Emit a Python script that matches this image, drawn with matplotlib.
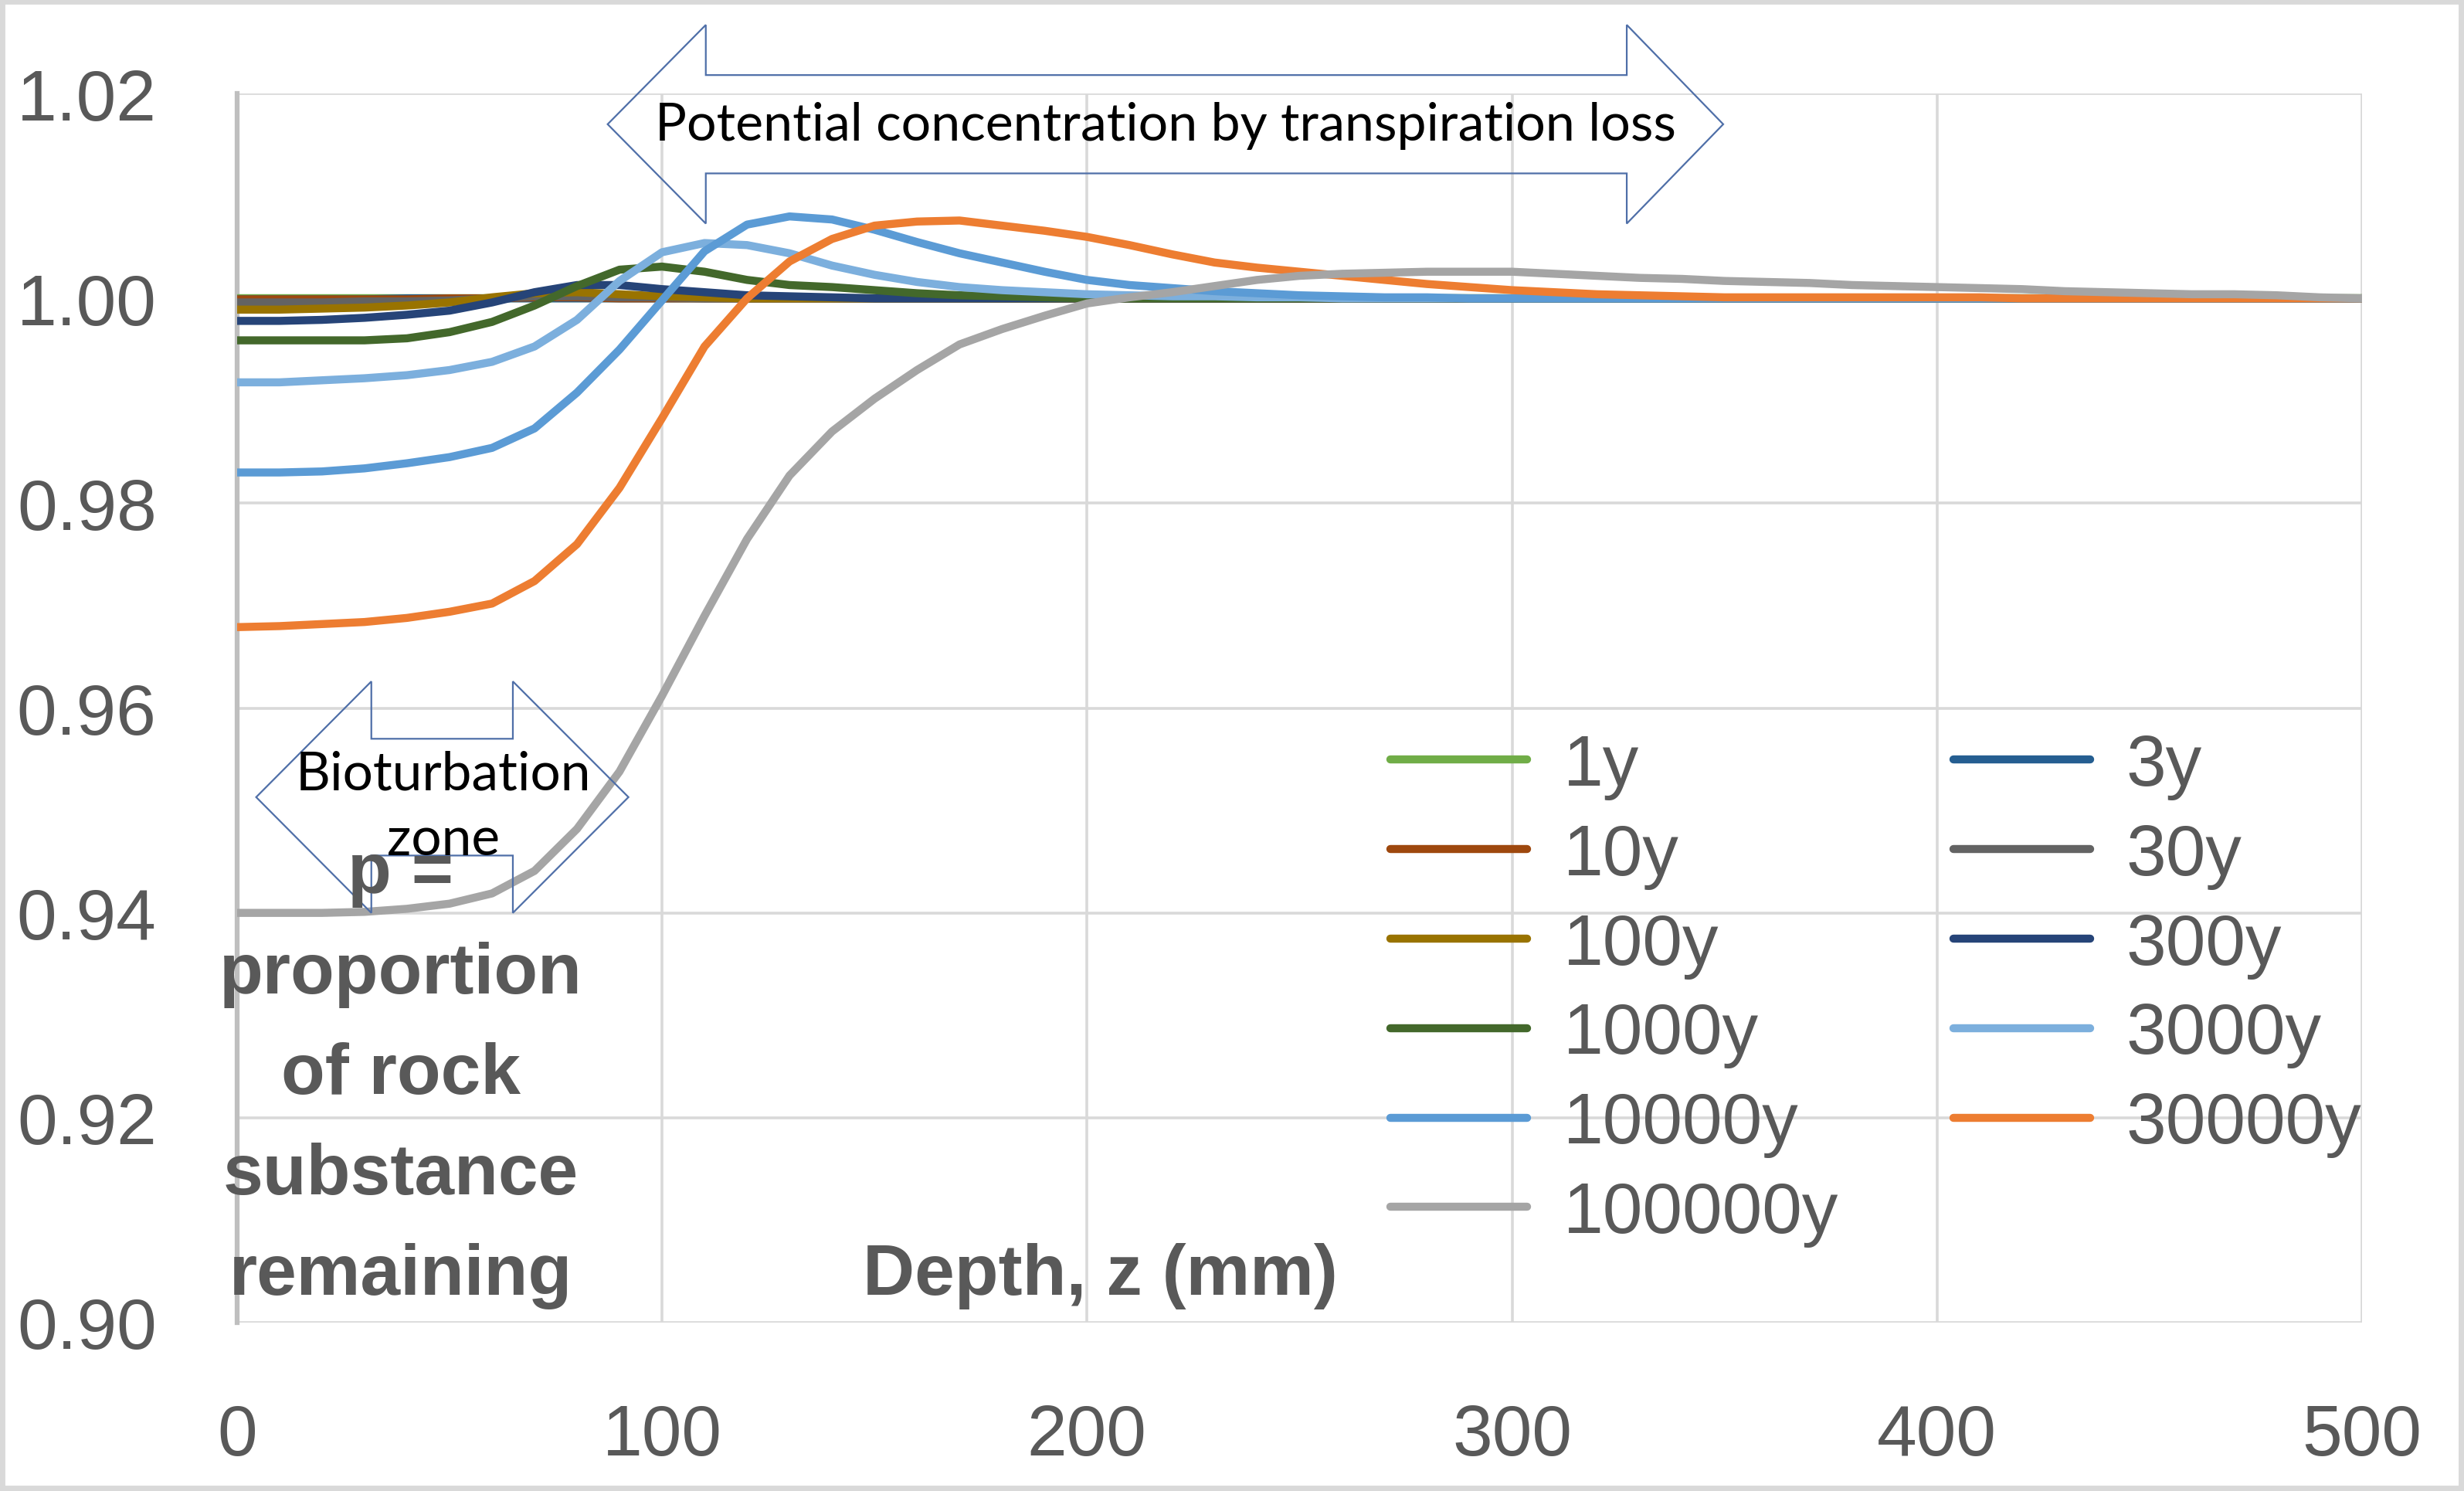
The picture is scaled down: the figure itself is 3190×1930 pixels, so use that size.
import matplotlib.pyplot as plt
import numpy as np
from matplotlib.patches import Polygon, Rectangle

# depth below surface (mm), one model node every 10 mm
depth = np.arange(0, 510, 10)

# p = proportion of rock substance remaining, one list per elapsed time
p_1y = [
    1.0000, 1.0000, 1.0000, 1.0000, 1.0000, 1.0000, 1.0000, 1.0000, 1.0000, 1.0000,
    1.0000, 1.0000, 1.0000, 1.0000, 1.0000, 1.0000, 1.0000, 1.0000, 1.0000, 1.0000,
    1.0000, 1.0000, 1.0000, 1.0000, 1.0000, 1.0000, 1.0000, 1.0000, 1.0000, 1.0000,
    1.0000, 1.0000, 1.0000, 1.0000, 1.0000, 1.0000, 1.0000, 1.0000, 1.0000, 1.0000,
    1.0000, 1.0000, 1.0000, 1.0000, 1.0000, 1.0000, 1.0000, 1.0000, 1.0000, 1.0000,
    1.0000,
]
p_3y = [
    0.9999, 0.9999, 0.9999, 0.9999, 1.0000, 1.0000, 1.0000, 1.0000, 1.0000, 1.0000,
    1.0000, 1.0000, 1.0000, 1.0000, 1.0000, 1.0000, 1.0000, 1.0000, 1.0000, 1.0000,
    1.0000, 1.0000, 1.0000, 1.0000, 1.0000, 1.0000, 1.0000, 1.0000, 1.0000, 1.0000,
    1.0000, 1.0000, 1.0000, 1.0000, 1.0000, 1.0000, 1.0000, 1.0000, 1.0000, 1.0000,
    1.0000, 1.0000, 1.0000, 1.0000, 1.0000, 1.0000, 1.0000, 1.0000, 1.0000, 1.0000,
    1.0000,
]
p_10y = [
    0.9999, 0.9999, 0.9999, 0.9999, 0.9999, 1.0000, 1.0000, 1.0001, 1.0001, 1.0000,
    1.0000, 1.0000, 1.0000, 1.0000, 1.0000, 1.0000, 1.0000, 1.0000, 1.0000, 1.0000,
    1.0000, 1.0000, 1.0000, 1.0000, 1.0000, 1.0000, 1.0000, 1.0000, 1.0000, 1.0000,
    1.0000, 1.0000, 1.0000, 1.0000, 1.0000, 1.0000, 1.0000, 1.0000, 1.0000, 1.0000,
    1.0000, 1.0000, 1.0000, 1.0000, 1.0000, 1.0000, 1.0000, 1.0000, 1.0000, 1.0000,
    1.0000,
]
p_30y = [
    0.9996, 0.9996, 0.9996, 0.9997, 0.9997, 0.9998, 1.0000, 1.0002, 1.0002, 1.0001,
    1.0001, 1.0000, 1.0000, 1.0000, 1.0000, 1.0000, 1.0000, 1.0000, 1.0000, 1.0000,
    1.0000, 1.0000, 1.0000, 1.0000, 1.0000, 1.0000, 1.0000, 1.0000, 1.0000, 1.0000,
    1.0000, 1.0000, 1.0000, 1.0000, 1.0000, 1.0000, 1.0000, 1.0000, 1.0000, 1.0000,
    1.0000, 1.0000, 1.0000, 1.0000, 1.0000, 1.0000, 1.0000, 1.0000, 1.0000, 1.0000,
    1.0000,
]
p_100y = [
    0.9989, 0.9989, 0.9990, 0.9991, 0.9993, 0.9996, 1.0001, 1.0005, 1.0006, 1.0004,
    1.0002, 1.0001, 1.0000, 1.0000, 1.0000, 1.0000, 1.0000, 1.0000, 1.0000, 1.0000,
    1.0000, 1.0000, 1.0000, 1.0000, 1.0000, 1.0000, 1.0000, 1.0000, 1.0000, 1.0000,
    1.0000, 1.0000, 1.0000, 1.0000, 1.0000, 1.0000, 1.0000, 1.0000, 1.0000, 1.0000,
    1.0000, 1.0000, 1.0000, 1.0000, 1.0000, 1.0000, 1.0000, 1.0000, 1.0000, 1.0000,
    1.0000,
]
p_300y = [
    0.9978, 0.9978, 0.9979, 0.9981, 0.9984, 0.9988, 0.9996, 1.0006, 1.0013, 1.0013,
    1.0009, 1.0006, 1.0003, 1.0002, 1.0001, 1.0000, 1.0000, 1.0000, 1.0000, 1.0000,
    1.0000, 1.0000, 1.0000, 1.0000, 1.0000, 1.0000, 1.0000, 1.0000, 1.0000, 1.0000,
    1.0000, 1.0000, 1.0000, 1.0000, 1.0000, 1.0000, 1.0000, 1.0000, 1.0000, 1.0000,
    1.0000, 1.0000, 1.0000, 1.0000, 1.0000, 1.0000, 1.0000, 1.0000, 1.0000, 1.0000,
    1.0000,
]
p_1000y = [
    0.9959, 0.9959, 0.9959, 0.9959, 0.9961, 0.9967, 0.9977, 0.9993, 1.0012, 1.0028,
    1.0031, 1.0026, 1.0018, 1.0013, 1.0011, 1.0008, 1.0005, 1.0003, 1.0002, 1.0001,
    1.0000, 1.0000, 1.0000, 1.0000, 1.0000, 1.0000, 1.0000, 1.0000, 1.0000, 1.0000,
    1.0000, 1.0000, 1.0000, 1.0000, 1.0000, 1.0000, 1.0000, 1.0000, 1.0000, 1.0000,
    1.0000, 1.0000, 1.0000, 1.0000, 1.0000, 1.0000, 1.0000, 1.0000, 1.0000, 1.0000,
    1.0000,
]
p_3000y = [
    0.9918, 0.9918, 0.9920, 0.9922, 0.9925, 0.9930, 0.9938, 0.9953, 0.9979, 1.0017,
    1.0045, 1.0054, 1.0052, 1.0044, 1.0032, 1.0023, 1.0016, 1.0011, 1.0008, 1.0006,
    1.0004, 1.0003, 1.0002, 1.0002, 1.0001, 1.0001, 1.0000, 1.0000, 1.0000, 1.0000,
    1.0000, 1.0000, 1.0000, 1.0000, 1.0000, 1.0000, 1.0000, 1.0000, 1.0000, 1.0000,
    1.0000, 1.0000, 1.0000, 1.0000, 1.0000, 1.0000, 1.0000, 1.0000, 1.0000, 1.0000,
    1.0000,
]
p_10000y = [
    0.9830, 0.9830, 0.9831, 0.9834, 0.9839, 0.9845, 0.9854, 0.9873, 0.9908, 0.9950,
    0.9998, 1.0046, 1.0072, 1.0080, 1.0077, 1.0067, 1.0055, 1.0044, 1.0035, 1.0026,
    1.0018, 1.0013, 1.0010, 1.0007, 1.0005, 1.0003, 1.0002, 1.0001, 1.0001, 1.0000,
    1.0000, 1.0000, 1.0000, 1.0000, 1.0000, 1.0000, 1.0000, 1.0000, 1.0000, 1.0000,
    1.0000, 1.0000, 1.0000, 1.0000, 1.0000, 1.0000, 1.0000, 1.0000, 1.0000, 1.0000,
    1.0000,
]
p_30000y = [
    0.9679, 0.9680, 0.9682, 0.9684, 0.9688, 0.9694, 0.9702, 0.9724, 0.9760, 0.9815,
    0.9883, 0.9953, 1.0000, 1.0036, 1.0058, 1.0071, 1.0075, 1.0076, 1.0071, 1.0066,
    1.0060, 1.0052, 1.0043, 1.0035, 1.0030, 1.0026, 1.0022, 1.0018, 1.0014, 1.0011,
    1.0008, 1.0006, 1.0004, 1.0003, 1.0002, 1.0001, 1.0001, 1.0001, 1.0001, 1.0001,
    1.0001, 1.0001, 1.0000, 1.0000, 1.0000, 1.0000, 1.0000, 1.0000, 1.0000, 1.0000,
    1.0000,
]
p_100000y = [
    0.9400, 0.9400, 0.9400, 0.9401, 0.9404, 0.9409, 0.9419, 0.9441, 0.9482, 0.9538,
    0.9612, 0.9690, 0.9765, 0.9827, 0.9870, 0.9902, 0.9930, 0.9955, 0.9970, 0.9983,
    0.9995, 1.0001, 1.0006, 1.0012, 1.0018, 1.0022, 1.0024, 1.0025, 1.0026, 1.0026,
    1.0026, 1.0024, 1.0022, 1.0020, 1.0019, 1.0017, 1.0016, 1.0015, 1.0013, 1.0012,
    1.0011, 1.0010, 1.0009, 1.0007, 1.0006, 1.0005, 1.0004, 1.0004, 1.0003, 1.0001,
    1.0000,
]

series = [
    ("1y", p_1y, "#70AD47"),
    ("3y", p_3y, "#255E91"),
    ("10y", p_10y, "#9E480E"),
    ("30y", p_30y, "#636363"),
    ("100y", p_100y, "#997300"),
    ("300y", p_300y, "#264478"),
    ("1000y", p_1000y, "#43682B"),
    ("3000y", p_3000y, "#7CAFDD"),
    ("10000y", p_10000y, "#5B9BD5"),
    ("30000y", p_30000y, "#ED7D31"),
    ("100000y", p_100000y, "#A5A5A5"),
]
legend_order = ["1y", "10y", "100y", "1000y", "10000y", "100000y",
                "3y", "30y", "300y", "3000y", "30000y"]

TEXT_GREY = "#595959"
GRID_GREY = "#D9D9D9"
SHAPE_BLUE = "#4F6FA8"
LABEL_FONT = ["Liberation Sans", "DejaVu Sans"]
HAND_FONT = ["Lato", "DejaVu Sans"]
FS = 67


def double_arrow(ax, x_tip0, x_neck0, x_neck1, x_tip1, yc, half_shaft, half_head):
    """Outline of a left-right block arrow, in data units."""
    pts = [
        (x_tip0, yc),
        (x_neck0, yc + half_head),
        (x_neck0, yc + half_shaft),
        (x_neck1, yc + half_shaft),
        (x_neck1, yc + half_head),
        (x_tip1, yc),
        (x_neck1, yc - half_head),
        (x_neck1, yc - half_shaft),
        (x_neck0, yc - half_shaft),
        (x_neck0, yc - half_head),
    ]
    ax.add_patch(Polygon(pts, closed=True, fill=False, edgecolor=SHAPE_BLUE,
                         linewidth=1.6, clip_on=False, zorder=6))


fig = plt.figure(figsize=(31.9, 19.31), dpi=100)
ax = fig.add_axes([0.0962, 0.1129, 0.8624, 0.8239])

handles = {}
for name, values, colour in series:
    (line,) = ax.plot(depth, values, color=colour, linewidth=7.5,
                      solid_joinstyle="round", solid_capstyle="round", zorder=3)
    handles[name] = line

ax.set_xlim(0, 500)
ax.set_ylim(0.90, 1.02)
ax.set_xticks(np.arange(0, 501, 100))
ax.set_yticks(np.arange(0.90, 1.021, 0.02))
ax.yaxis.set_major_formatter(plt.FormatStrFormatter("%.2f"))
ax.grid(True, color=GRID_GREY, linewidth=2.6)
ax.set_axisbelow(True)
ax.tick_params(length=0, labelsize=FS, labelcolor=TEXT_GREY, pad=75)
for lab in ax.get_xticklabels() + ax.get_yticklabels():
    lab.set_family(LABEL_FONT)
for side in ("top", "right", "bottom"):
    ax.spines[side].set_visible(False)
ax.spines["left"].set_color("#BFBFBF")
ax.spines["left"].set_linewidth(4.5)

# axis titles sit inside the plot area
ylabel_lines = ["p =", "proportion", "of rock", "substance", "remaining"]
for i, txt in enumerate(ylabel_lines):
    fig.text(0.1627, 1 - (1156 + 130 * i) / 1931, txt, ha="center", va="baseline",
             fontsize=FS, fontweight="bold", color=TEXT_GREY, family=LABEL_FONT,
             zorder=4)
fig.text(0.4464, 1 - 1676 / 1931, "Depth, z (mm)", ha="center", va="baseline",
         fontsize=FS, fontweight="bold", color=TEXT_GREY, family=LABEL_FONT)

# annotation arrows
double_arrow(ax, 87.2, 110.3, 327.0, 349.7, 1.0170, 0.0048, 0.0097)
ax.text(218.5, 1.0155, "Potential concentration by transpiration loss",
        ha="center", va="baseline", fontsize=49, color="black",
        family=HAND_FONT, zorder=7, clip_on=False)

double_arrow(ax, 4.5, 31.6, 64.9, 92.1, 0.9513, 0.0057, 0.0113)
ax.text(48.6, 0.9521, "Bioturbation", ha="center", va="baseline", fontsize=50,
        color="black", family=HAND_FONT, zorder=7)
ax.text(48.6, 0.9457, "zone", ha="center", va="baseline", fontsize=50,
        color="black", family=HAND_FONT, zorder=7)

leg = fig.legend([handles[n] for n in legend_order], legend_order,
                 loc="upper left", bbox_to_anchor=(0.5643, 0.508), ncol=2,
                 frameon=False, handlelength=1.9, handletextpad=0.5,
                 columnspacing=1.6, labelspacing=0.32, borderpad=0,
                 borderaxespad=0, prop={"family": LABEL_FONT, "size": FS},
                 labelcolor=TEXT_GREY)

fig.add_artist(Rectangle((0, 0), 1, 1, transform=fig.transFigure, fill=False,
                         edgecolor=GRID_GREY, linewidth=10))

fig.savefig("out.png", dpi=100)
